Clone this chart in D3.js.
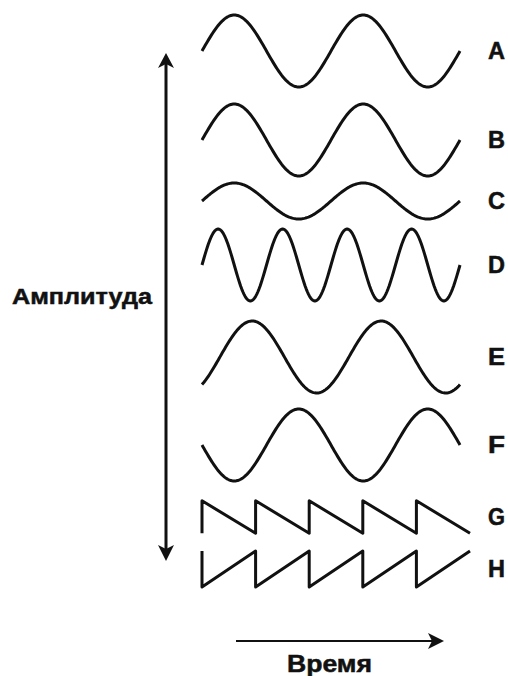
<!DOCTYPE html>
<html>
<head>
<meta charset="utf-8">
<script src="https://cdn.jsdelivr.net/npm/d3@7"></script>
<style>
  body { margin: 0; background: #fff; }
  text { font-family: "Liberation Sans", Arial, sans-serif; font-weight: bold; fill: #111; stroke: #111; stroke-width: 0.5px; }
</style>
</head>
<body>
<div id="viz"></div>
<script>
// wave parameters
var waves      = ["A", "B", "C", "D", "E", "F", "G", "H"];
var shapes     = ["sine", "sine", "sine", "sine", "sine", "sine", "sawDown", "sawUp"];
var amplitudes = [1, 1, 0.5, 1, 1, 1, 0.45, 0.5];
var cycles     = [2, 2, 2, 4, 2, 2, 5, 5];
var phases     = [0, 0, 0, 0, -50, 180, 0, 0];   // degrees
var yLabel = "Амплитуда",
    xLabel = "Время";

var width = 508,
    height = 676,
    radians = Math.PI / 180;

var svg = d3.select("#viz").append("svg")
    .attr("width", width)
    .attr("height", height)
    .style("background-color", "white");

// horizontal: each wave spans the same time window
var x = d3.scaleLinear().domain([0, 1]).range([202, 460]);
var xSaw = d3.scaleLinear().domain([0, 1]).range([202, 470]);

// one row per wave
var rowY = d3.scaleOrdinal()
    .domain(waves)
    .range([51, 140, 201, 265, 357, 445, 517, 569]);

var amp = d3.scaleLinear().domain([0, 1]).range([0, 36]);

var rows = waves.map(function(name, i) {
  return { name: name, shape: shapes[i], a: amplitudes[i], n: cycles[i], phi: phases[i] };
});

function points(d) {
  var pts = [];
  if (d.shape === "sine") {
    var steps = 240;
    for (var k = 0; k <= steps; k++) {
      var t = k / steps;
      pts.push([x(t), rowY(d.name) - amp(d.a) * Math.sin(2 * Math.PI * d.n * t + d.phi * radians)]);
    }
  } else {
    var s = d.shape === "sawDown" ? 1 : -1;
    for (var j = 0; j < d.n; j++) {
      pts.push([xSaw(j / d.n), rowY(d.name) + s * amp(d.a)]);
      pts.push([xSaw(j / d.n), rowY(d.name) - s * amp(d.a)]);
    }
    pts.push([xSaw(1), rowY(d.name) + s * amp(d.a)]);
  }
  return pts;
}

var line = d3.line();

var g = svg.selectAll("g.wave")
    .data(rows)
    .enter()
    .append("g")
    .attr("class", "wave");

g.append("path")
    .attr("d", function(d) { return line(points(d)); })
    .style("fill", "none")
    .style("stroke", "#111")
    .style("stroke-width", 3)
    .style("stroke-linejoin", "round")
    .style("stroke-linecap", "butt");

g.append("text")
    .attr("x", 488)
    .attr("y", function(d) { return rowY(d.name) + 8; })
    .attr("textLength", 17)
    .attr("lengthAdjust", "spacingAndGlyphs")
    .style("font-size", "23px")
    .text(function(d) { return d.name; });

// amplitude arrow (both ends)
svg.append("line")
    .attr("x1", 166).attr("y1", 62)
    .attr("x2", 166).attr("y2", 552)
    .style("stroke", "#111")
    .style("stroke-width", 3);

svg.append("path")
    .attr("d", "M166,53 L174,68 L166,64 L158,68 Z")
    .style("fill", "#111");
svg.append("path")
    .attr("d", "M166,561 L174,545 L166,549 L158,545 Z")
    .style("fill", "#111");

svg.append("text")
    .attr("x", 12)
    .attr("y", 304)
    .attr("textLength", 140)
    .attr("lengthAdjust", "spacingAndGlyphs")
    .style("font-size", "22px")
    .text(yLabel);

// time arrow
svg.append("line")
    .attr("x1", 236).attr("y1", 641)
    .attr("x2", 432).attr("y2", 641)
    .style("stroke", "#111")
    .style("stroke-width", 2);

svg.append("path")
    .attr("d", "M444,641 L428,633 L432,641 L428,649 Z")
    .style("fill", "#111");

svg.append("text")
    .attr("x", 287)
    .attr("y", 672)
    .attr("textLength", 85)
    .attr("lengthAdjust", "spacingAndGlyphs")
    .style("font-size", "23px")
    .text(xLabel);
</script>
</body>
</html>
